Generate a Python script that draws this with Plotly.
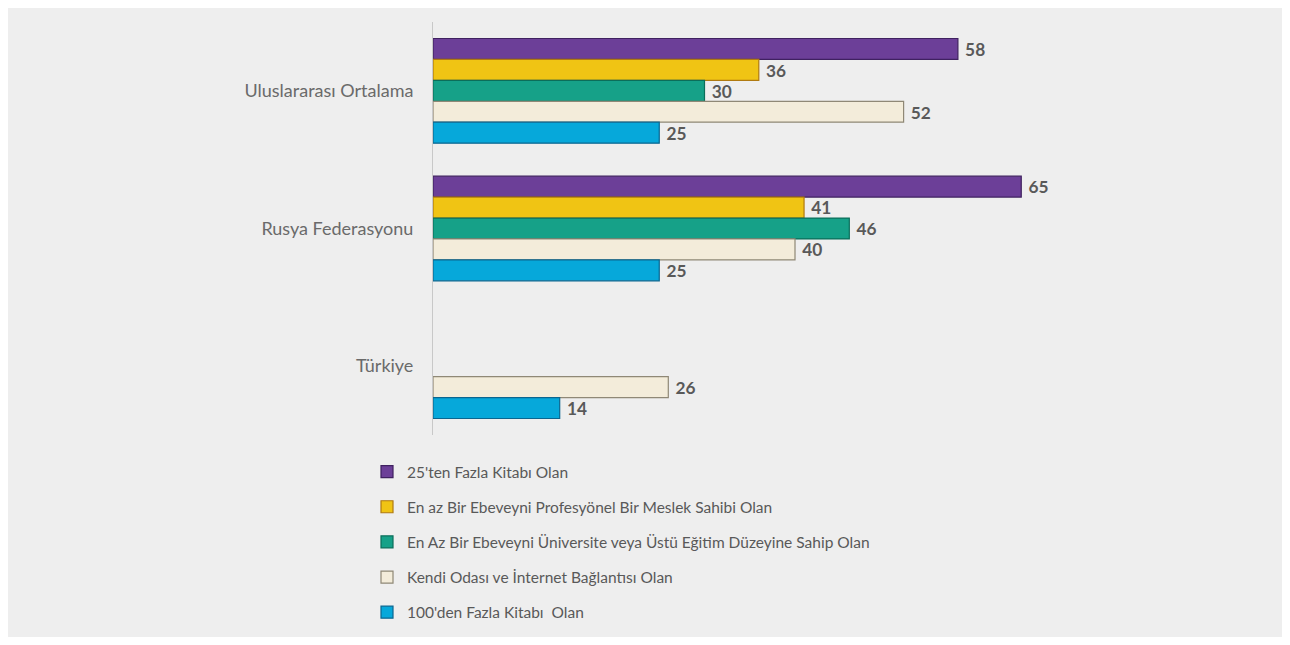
import plotly.graph_objects as go

# categories (top to bottom)
groups = ["Uluslararası Ortalama", "Rusya Federasyonu", "Türkiye"]

# series, in the order they appear inside each group (top to bottom)
series_names = [
    "25'ten Fazla Kitabı Olan",
    "En az Bir Ebeveyni Profesyönel Bir Meslek Sahibi Olan",
    "En Az Bir Ebeveyni Üniversite veya Üstü Eğitim Düzeyine Sahip Olan",
    "Kendi Odası ve İnternet Bağlantısı Olan",
    "100'den Fazla Kitabı  Olan",
]
kitap_25 = [58, 65, None]
meslek = [36, 41, None]
universite = [30, 46, None]
oda_internet = [52, 40, 26]
kitap_100 = [25, 25, 14]

values = [kitap_25, meslek, universite, oda_internet, kitap_100]
fills = ["#6c3f98", "#f0c414", "#16a188", "#f3ecda", "#06a8da"]
edges = ["#3f2160", "#b07a10", "#0b6e5a", "#8f8876", "#0a6690"]

fig = go.Figure()
for i, (name, vals) in enumerate(zip(series_names, values)):
    fig.add_trace(go.Bar(
        y=groups, x=vals, name=name, orientation="h",
        marker=dict(color=fills[i], line=dict(color=edges[i], width=1.2)),
        texttemplate=" %{x}", textposition="outside", cliponaxis=False,
        textfont=dict(size=19, color="#595959", family="Lato", weight="bold"),
        legendgroup=f"g{i}",
    ))

# page body has an 8px offset, so layout pixels are shifted by -8
pl, pr, pt, pb = 425, 1182, 14, 427
w, h = pr - pl, pb - pt
# gray panel behind everything
fig.add_shape(type="rect", xref="paper", yref="paper", layer="below",
              x0=(-2 - pl) / w, x1=(1276 - pl) / w,
              y0=(pb - 629) / h, y1=(pb + 5) / h,
              fillcolor="#eeeeee", line=dict(width=0))

fig.update_layout(
    width=1290, height=645,
    margin=dict(l=pl, r=1290 - pr, t=pt, b=645 - pb, autoexpand=False),
    paper_bgcolor="white", plot_bgcolor="rgba(0,0,0,0)",
    barmode="group", bargap=0.24, bargroupgap=0,
    font=dict(family="Lato", color="#595959"),
    xaxis=dict(range=[0, w / 9.05], showticklabels=False, showgrid=False,
               zeroline=False, showline=False),
    yaxis=dict(autorange="reversed", showline=True, linecolor="#c8c8c8",
               linewidth=1, ticks="", ticklabelstandoff=15, automargin=False,
               tickfont=dict(size=18, color="#6a6a6a")),
    showlegend=True,
    legend=dict(x=(359 - pl) / w, y=(pb - 447) / h,
                xanchor="left", yanchor="top", traceorder="grouped",
                tracegroupgap=12, font=dict(size=15.5, color="#595959"),
                bgcolor="rgba(0,0,0,0)", itemwidth=30),
)

fig.write_html("out.html")
